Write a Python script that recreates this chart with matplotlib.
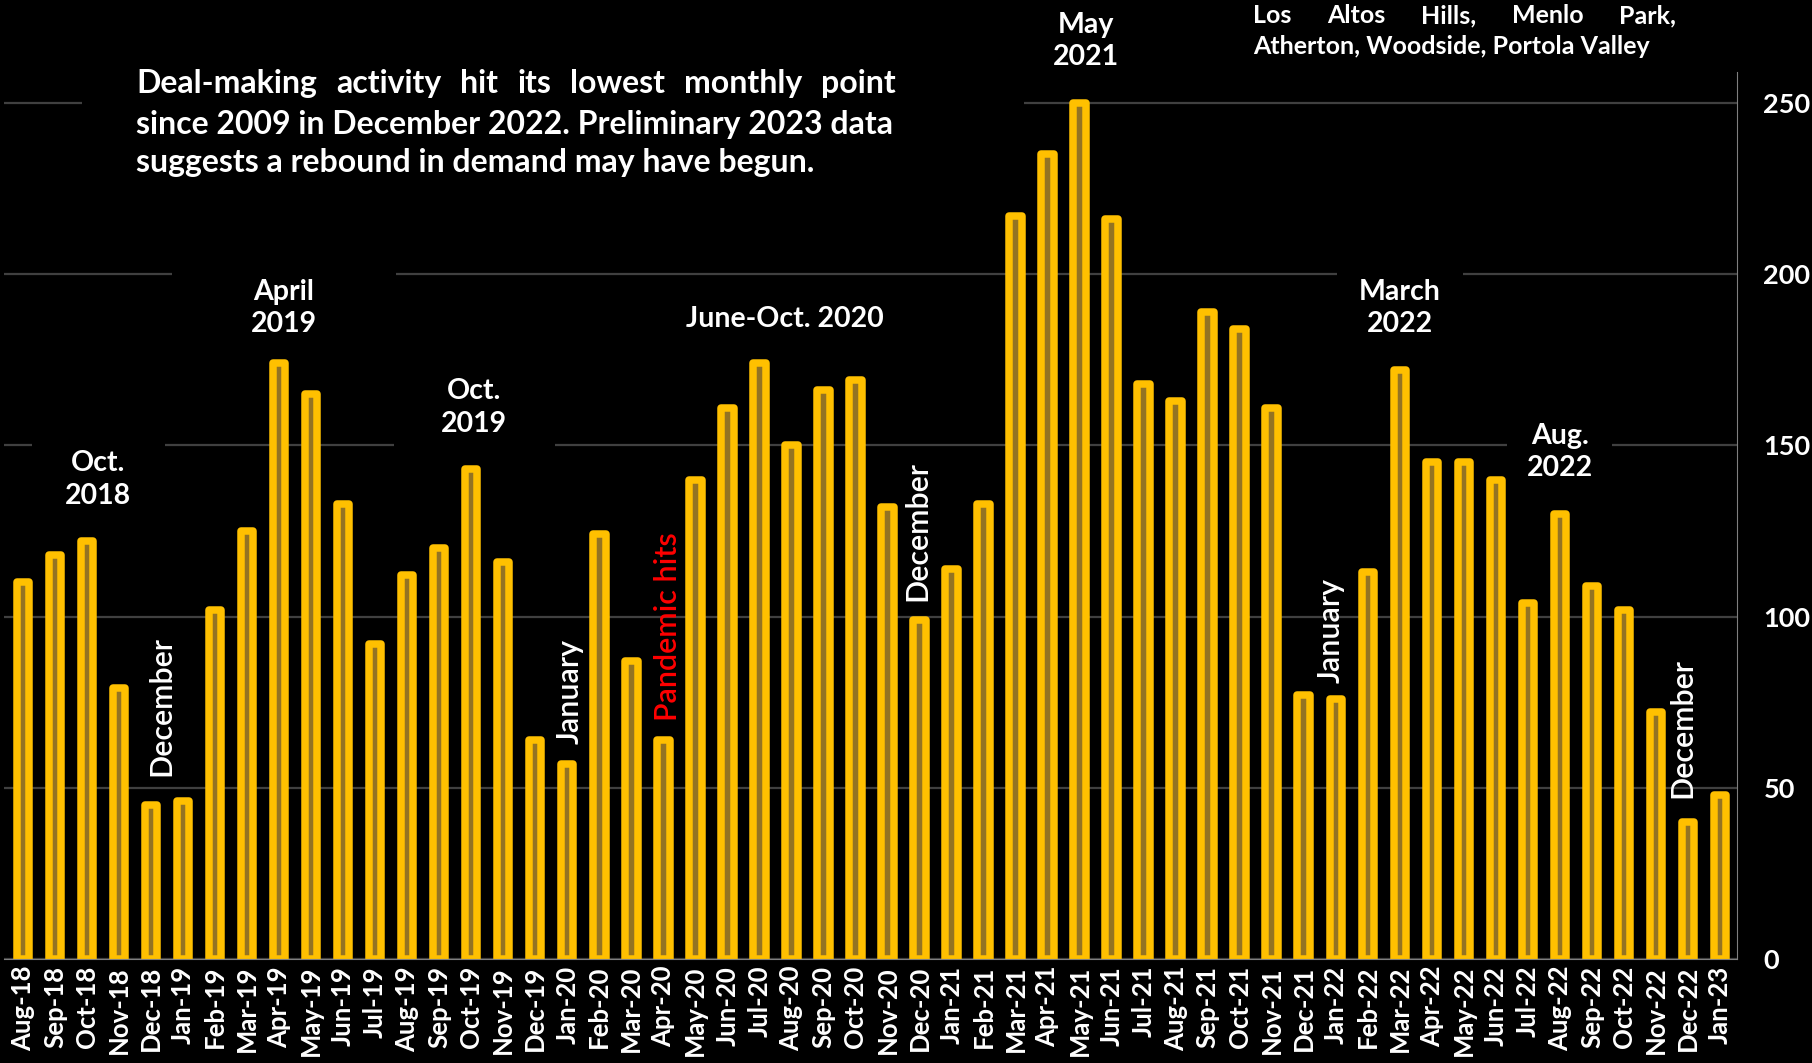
import matplotlib.pyplot as plt
from matplotlib.patches import Rectangle

months = ['Aug-18', 'Sep-18', 'Oct-18', 'Nov-18', 'Dec-18', 'Jan-19', 'Feb-19', 'Mar-19',
          'Apr-19', 'May-19', 'Jun-19', 'Jul-19', 'Aug-19', 'Sep-19', 'Oct-19', 'Nov-19',
          'Dec-19', 'Jan-20', 'Feb-20', 'Mar-20', 'Apr-20', 'May-20', 'Jun-20', 'Jul-20',
          'Aug-20', 'Sep-20', 'Oct-20', 'Nov-20', 'Dec-20', 'Jan-21', 'Feb-21', 'Mar-21',
          'Apr-21', 'May-21', 'Jun-21', 'Jul-21', 'Aug-21', 'Sep-21', 'Oct-21', 'Nov-21',
          'Dec-21', 'Jan-22', 'Feb-22', 'Mar-22', 'Apr-22', 'May-22', 'Jun-22', 'Jul-22',
          'Aug-22', 'Sep-22', 'Oct-22', 'Nov-22', 'Dec-22', 'Jan-23']
deals = [110, 118, 122, 79, 45, 46, 102, 125,
         174, 165, 133, 92, 112, 120, 143, 116,
         64, 57, 124, 87, 64, 140, 161, 174,
         150, 166, 169, 132, 99, 114, 133, 217,
         235, 250, 216, 168, 163, 189, 184, 161,
         77, 76, 113, 172, 145, 145, 140, 104,
         130, 109, 102, 72, 40, 48]
yticks = [0, 50, 100, 150, 200, 250]

plt.rcParams['font.family'] = ['Lato', 'DejaVu Sans']

fig = plt.figure(figsize=(18.12, 10.63), dpi=100, facecolor='black')
ax = fig.add_axes([0.0022, 0.0978, 0.9564, 0.8345])
ax.set_facecolor('black')

x = list(range(len(months)))
ax.bar(x, deals, width=0.39, color='#937323', edgecolor='#FFC000',
       linewidth=5.4, joinstyle='round', zorder=2)

ax.set_xlim(-0.59, 53.53)
ax.set_ylim(0, 259)
ax.set_xticks(x)
ax.set_xticklabels(months, rotation=90, color='white', fontsize=18.5, fontweight='bold')
ax.yaxis.tick_right()
ax.set_yticks(yticks)
ax.set_yticklabels([str(v) for v in yticks], color='white', fontsize=19.5, fontweight='bold')
ax.tick_params(axis='y', length=0, pad=19)
ax.tick_params(axis='x', length=0, pad=5)
ax.set_axisbelow(True)
ax.grid(axis='y', color='#404040', linewidth=1.6)
ax.spines['top'].set_visible(False)
ax.spines['left'].set_visible(False)
ax.spines['right'].set_color('#7f7f7f')
ax.spines['bottom'].set_color('#7f7f7f')

# bold labels with black boxes that hide the gridlines behind them
notes = [
    ('Oct.\n2018', 2.35, 140, 24),
    ('April\n2019', 8.15, 190, 57),
    ('Oct.\n2019', 14.1, 161, 34),
    ('June-Oct. 2020', 23.8, 187, 3),
    ('May\n2021', 33.2, 268, 3),
    ('March\n2022', 43.0, 190, 16),
    ('Aug.\n2022', 48.0, 148, 14),
]
for txt, xi, yv, pad in notes:
    ax.text(xi, yv, txt, ha='center', va='center', color='white', fontsize=20.5,
            fontweight='bold', linespacing=1.3, zorder=1, clip_on=False,
            bbox=dict(facecolor='black', edgecolor='none', pad=pad))

# vertical labels
vnotes = [
    ('December', 4.34, 74, 'white'),
    ('January', 17.08, 78, 'white'),
    ('Pandemic hits', 20.14, 97, '#FF0000'),
    ('December', 27.94, 125, 'white'),
    ('January', 40.85, 96, 'white'),
    ('December', 51.83, 67.5, 'white'),
]
for txt, xi, yv, col in vnotes:
    ax.text(xi, yv, txt, rotation=90, ha='center', va='center', color=col,
            fontsize=22, fontweight='semibold', zorder=3)

# black panel behind the headline text
ax.add_patch(Rectangle((0.045, 0.84), 0.52, 0.1, transform=fig.transFigure,
                       facecolor='black', edgecolor='none', zorder=1, clip_on=False))


def justified(words, x0, x1, y, size):
    r = fig.canvas.get_renderer()
    texts = [fig.text(0, y, w, va='center', ha='left', color='white',
                      fontsize=size, fontweight='bold') for w in words]
    widths = [t.get_window_extent(r).width for t in texts]
    W = fig.bbox.width
    gap = ((x1 - x0) * W - sum(widths)) / (len(words) - 1)
    pos = x0 * W
    for t, w in zip(texts, widths):
        t.set_x(pos / W)
        pos += w + gap


justified('Deal-making activity hit its lowest monthly point'.split(), 0.075, 0.4945, 0.921, 23)
fig.text(0.075, 0.883, 'since 2009 in December 2022. Preliminary 2023 data', va='center',
         color='white', fontsize=23, fontweight='bold')
fig.text(0.075, 0.847, 'suggests a rebound in demand may have begun.', va='center',
         color='white', fontsize=23, fontweight='bold')

justified('Los Altos Hills, Menlo Park,'.split(), 0.6915, 0.925, 0.985, 18)
fig.text(0.6915, 0.956, 'Atherton, Woodside, Portola Valley', va='center',
         color='white', fontsize=18, fontweight='bold')

fig.savefig('out.png', dpi=100, facecolor='black')
